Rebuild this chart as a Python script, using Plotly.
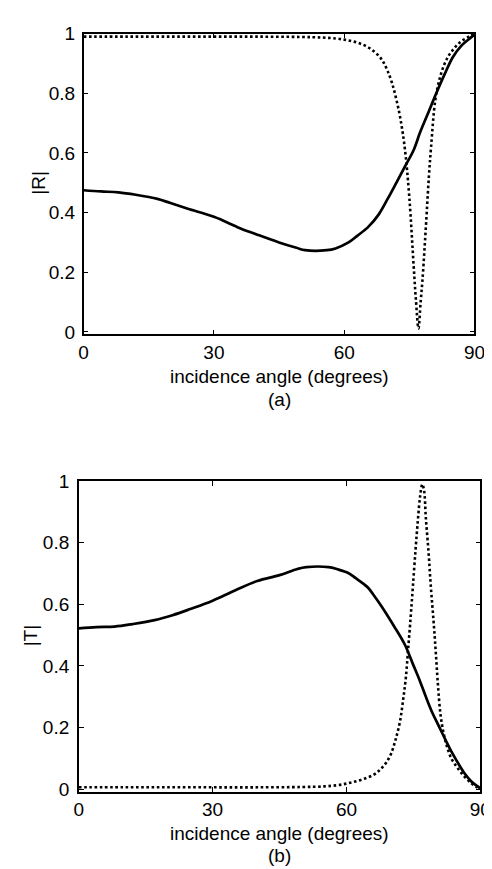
import plotly.graph_objects as go

# ---------------- data ----------------
x_ticks = [0, 30, 60, 90]
x_tick_labels = ["0", "30", "60", "90"]
y_ticks = [0, 0.2, 0.4, 0.6, 0.8, 1]
y_tick_labels = ["0", "0.2", "0.4", "0.6", "0.8", "1"]

# (a) |R|
r_solid_angle = [0, 4, 8, 12, 17, 20, 24, 30, 36, 40, 45, 49, 51, 56, 58, 61, 63, 65.6, 68, 70,
                 72, 74, 76, 77.5, 79.5, 81.2, 83, 85, 87, 89, 90]
r_solid = [0.475, 0.471, 0.468, 0.46, 0.446, 0.432, 0.413, 0.386, 0.348, 0.326, 0.30, 0.282, 0.274,
           0.274, 0.28, 0.30, 0.322, 0.353, 0.395, 0.446, 0.50, 0.555, 0.61, 0.67, 0.74, 0.80, 0.86,
           0.921, 0.96, 0.985, 0.997]

r_dot_angle = [0, 10, 20, 30, 40, 50, 55, 58, 60, 62, 64, 66, 68, 69, 70, 71, 72, 73, 74, 75, 76,
               76.5, 77.1, 77.6, 78, 78.5, 79, 79.5, 80, 81, 82, 83, 84, 85, 86, 87, 88, 89, 90]
r_dot = [0.99, 0.99, 0.99, 0.99, 0.99, 0.989, 0.987, 0.984, 0.98, 0.974, 0.965, 0.95, 0.925, 0.905,
         0.875, 0.835, 0.78, 0.71, 0.61, 0.45, 0.22, 0.11, 0.012, 0.10, 0.17, 0.28, 0.40, 0.52, 0.62,
         0.78, 0.85, 0.895, 0.925, 0.945, 0.962, 0.975, 0.984, 0.993, 1.0]

# (b) |T|
t_solid_angle = [0, 4, 8, 12, 17, 21, 25, 30, 35, 40, 45, 49, 51, 56, 58, 60.4, 62, 64.8, 66, 67.7,
                 70.5, 73.1, 74.9, 76.5, 77.8, 79.2, 80.7, 82.2, 83.6, 85, 86.5, 88, 89.4, 90]
t_solid = [0.522, 0.526, 0.528, 0.536, 0.549, 0.565, 0.585, 0.612, 0.645, 0.676, 0.695, 0.715, 0.721,
           0.721, 0.714, 0.702, 0.686, 0.655, 0.632, 0.597, 0.533, 0.469, 0.406, 0.35, 0.30, 0.25,
           0.205, 0.16, 0.12, 0.085, 0.051, 0.025, 0.009, 0.003]

t_dot_angle = [0, 10, 20, 30, 40, 50, 55, 58, 60, 62, 64, 66, 67, 68, 69, 70, 71, 72, 72.7, 73.3,
               73.8, 74.4, 74.9, 75.5, 76, 76.5, 77, 77.4, 77.8, 78.4, 78.9, 79.5, 80, 80.5, 81.1,
               81.8, 82.5, 83.5, 85, 86.5, 88, 89, 90]
t_dot = [0.006, 0.006, 0.006, 0.006, 0.006, 0.007, 0.009, 0.013, 0.018, 0.025, 0.034, 0.046, 0.056,
         0.07, 0.088, 0.115, 0.16, 0.22, 0.29, 0.36, 0.45, 0.56, 0.66, 0.78, 0.872, 0.95, 0.99, 0.97,
         0.88, 0.77, 0.66, 0.55, 0.45, 0.34, 0.24, 0.18, 0.14, 0.10, 0.067, 0.04, 0.019, 0.008, 0.002]

# ---------------- figure ----------------
W, H = 492, 869
FONT = "Liberation Sans, Arial, Helvetica, sans-serif"
FS = 19

solid_line = dict(color="black", width=2.7)
dot_line = dict(color="black", width=2.6, dash="2.6px,2.6px")

fig = go.Figure()
fig.add_trace(go.Scatter(x=r_solid_angle, y=r_solid, mode="lines", line=solid_line,
                         xaxis="x", yaxis="y", line_shape="spline"))
fig.add_trace(go.Scatter(x=r_dot_angle, y=r_dot, mode="lines", line=dot_line,
                         xaxis="x", yaxis="y", line_shape="spline"))
fig.add_trace(go.Scatter(x=t_solid_angle, y=t_solid, mode="lines", line=solid_line,
                         xaxis="x2", yaxis="y2", line_shape="spline"))
fig.add_trace(go.Scatter(x=t_dot_angle, y=t_dot, mode="lines", line=dot_line,
                         xaxis="x2", yaxis="y2", line_shape="spline"))


def px_x(p):
    return p / W


def px_y(p):
    return 1 - p / H


common = dict(showline=True, linecolor="black", linewidth=1.5, mirror="allticks",
              ticks="inside", ticklen=5, tickwidth=1, tickcolor="black",
              showgrid=False, zeroline=False,
              tickfont=dict(family=FONT, size=FS, color="black"))

fig.update_layout(
    width=W, height=H,
    margin=dict(l=0, r=0, t=0, b=0),
    paper_bgcolor="white", plot_bgcolor="white",
    showlegend=False,
    xaxis=dict(domain=[px_x(73), px_x(477)], range=[0, 90], anchor="y",
               tickvals=x_ticks, ticktext=x_tick_labels, ticklabelstandoff=0, **common),
    yaxis=dict(domain=[px_y(323), px_y(16)], range=[-0.008, 1], anchor="x",
               tickvals=y_ticks, ticktext=y_tick_labels, ticklabelstandoff=3, **common),
    xaxis2=dict(domain=[px_x(68), px_x(483)], range=[0, 90], anchor="y2",
                tickvals=x_ticks, ticktext=x_tick_labels, ticklabelstandoff=0, **common),
    yaxis2=dict(domain=[px_y(790), px_y(473)], range=[-0.008, 1], anchor="x2",
                tickvals=y_ticks, ticktext=y_tick_labels, ticklabelstandoff=4, **common),
)

afont = dict(family=FONT, size=FS, color="black")
annotations = [
    dict(text="|R|", x=px_x(26), y=px_y(168), textangle=-90),
    dict(text="incidence angle (degrees)", x=px_x(275), y=px_y(366)),
    dict(text="(a)", x=px_x(275), y=px_y(390)),
    dict(text="|T|", x=px_x(19), y=px_y(631), textangle=-90),
    dict(text="incidence angle (degrees)", x=px_x(275), y=px_y(833)),
    dict(text="(b)", x=px_x(275), y=px_y(855)),
]
for a in annotations:
    a.update(xref="paper", yref="paper", xanchor="center", yanchor="middle",
             showarrow=False, font=afont)
fig.update_layout(annotations=annotations)

fig.write_html("out.html")
